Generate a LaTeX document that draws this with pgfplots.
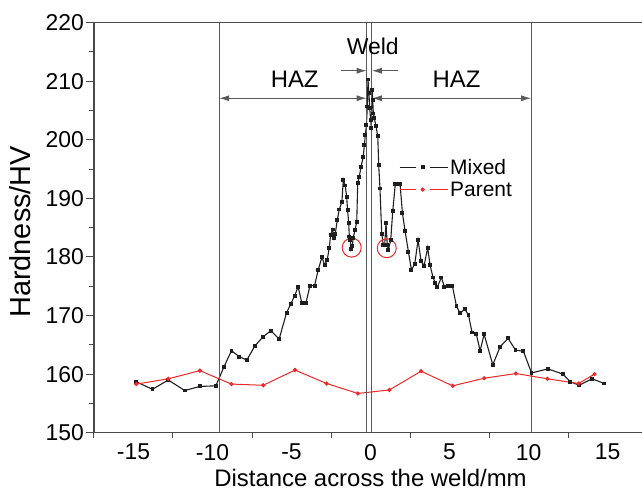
\documentclass[border=0pt]{standalone}
\usepackage{fontspec}
\setmainfont{Liberation Sans}
\usepackage{pgfplots}
\pgfplotsset{compat=1.18}
\usetikzlibrary{arrows.meta}
\definecolor{frame}{HTML}{4A4A4A}
\definecolor{mix}{HTML}{1E1E1E}
\definecolor{par}{HTML}{F02828}
\definecolor{vline}{HTML}{5A5A5A}

\pgfplotstableread{
x y
-14.82 158.7
-13.80 157.4
-12.80 159.0
-11.76 157.2
-10.80 157.9
-9.79 158.0
-9.28 161.2
-8.80 164.0
-8.31 163.0
-7.83 162.4
-7.32 164.8
-6.79 166.4
-6.31 167.4
-5.78 166.0
-5.31 170.5
-5.06 171.9
-4.80 173.4
-4.58 174.9
-4.34 172.1
-4.09 172.1
-3.83 175.1
-3.54 175.1
-3.31 177.8
-3.07 180.0
-2.90 178.6
-2.74 179.5
-2.61 181.6
-2.52 183.8
-2.40 184.7
-2.31 183.2
-2.23 184.0
-2.10 186.3
-1.98 188.1
-1.81 189.4
-1.72 193.2
-1.60 192.2
-1.51 190.3
-1.45 188.0
-1.38 185.8
-1.34 183.5
-1.27 182.9
-1.24 181.3
-1.16 181.8
-1.09 183.3
-0.98 184.6
-0.87 186.0
-0.81 192.6
-0.71 193.7
-0.60 195.4
-0.46 197.1
-0.39 199.1
-0.33 200.8
-0.26 202.5
-0.20 205.7
-0.16 210.3
-0.10 208.0
-0.05 205.4
0.01 203.4
0.05 202.0
0.10 208.5
0.14 206.8
0.18 204.5
0.24 203.7
0.35 202.3
0.46 200.6
0.52 195.7
0.60 191.7
0.71 184.0
0.81 182.1
0.90 182.1
0.98 185.8
1.06 182.1
1.13 181.2
1.28 182.9
1.41 187.9
1.57 192.5
1.72 192.5
1.87 192.5
2.02 187.5
2.19 184.4
2.40 180.9
2.59 177.8
2.80 178.8
3.01 182.9
3.20 179.3
3.39 178.5
3.62 181.6
3.77 178.6
3.96 176.5
4.11 175.5
4.23 174.9
4.49 176.5
4.68 174.9
4.91 175.1
5.18 175.1
5.44 171.6
5.67 170.4
5.97 171.1
6.20 170.1
6.43 167.1
6.69 166.9
6.94 164.0
7.19 166.8
7.74 161.6
8.21 164.7
8.71 166.1
9.18 164.1
9.68 163.9
10.19 160.2
11.23 160.9
12.18 160.0
12.64 158.7
13.21 158.1
14.02 159.2
14.80 158.4
}\mixed

\pgfplotstableread{
x y
-14.82 158.3
-12.80 159.2
-10.80 160.6
-8.80 158.3
-6.79 158.1
-4.78 160.7
-2.78 158.4
-0.80 156.7
1.20 157.3
3.20 160.5
5.20 158.0
7.19 159.3
9.20 160.1
11.20 159.2
13.17 158.4
14.18 160.0
}\parent

\begin{document}
\begin{tikzpicture}
\useasboundingbox (-94bp,-65.3bp) rectangle (548bp,432.7bp);
\begin{axis}[
  at={(0,0)}, anchor=south west,
  scale only axis, width=553bp, height=410bp,
  xmin=-17.5, xmax=17.5, ymin=150, ymax=220,
  xtick={-15,-10,...,15}, ytick={150,160,...,220},
  minor xtick={-17.5,-12.5,...,17.5}, minor ytick={155,165,...,215},
  xtick pos=bottom, ytick pos=left, tick align=outside,
  major tick length=8bp, minor tick length=5bp,
  axis line style={frame, line width=1.2bp},
  tick style={frame, line width=1bp},
  major x tick style={draw=none},
  /pgf/number format/assume math mode=true,
  tick label style={font=\fontsize{23}{27}\selectfont},
  yticklabel style={inner xsep=2bp},
  label style={font=\fontsize{24}{29}\selectfont},
  xlabel={Distance across the weld/mm},
  ylabel={Hardness/HV},
  xlabel style={at={(axis description cs:0.5,-0.11)}, anchor=center},
  ylabel style={at={(axis description cs:-0.134,0.49)}, anchor=center, font=\fontsize{29}{34}\selectfont},
  legend style={at={(axis cs:1.8,197.1)}, anchor=north west, draw=none, fill=none,
    font=\fontsize{21}{25}\selectfont, inner sep=0pt, row sep=2bp, cells={anchor=west}},
  legend image code/.code={
    \draw[#1, mark=none] (0bp,0bp) -- (16bp,0bp) (30bp,0bp) -- (48bp,0bp);
    \path[#1] plot coordinates {(23bp,0bp)};
  },
]
\addplot[mix, line width=1.1bp, mark=square*, mark size=1.4bp, mark options={solid, fill=mix}] table[x=x,y=y] {\mixed};
\addlegendentry{Mixed}
\addplot[par, line width=1bp, mark=*, mark size=1.6bp, mark options={solid, fill=par}] table[x=x,y=y] {\parent};
\addlegendentry{Parent}

% zone lines
\draw[vline, line width=1.2bp] (axis cs:-9.58,150) -- (axis cs:-9.58,220);
\draw[vline, line width=1.2bp] (axis cs:10.17,150) -- (axis cs:10.17,220);
\draw[vline, line width=1.2bp] (axis cs:-0.24,150) -- (axis cs:-0.24,220);
\draw[vline, line width=1.2bp] (axis cs:0.08,150) -- (axis cs:0.08,220);
% HAZ arrows
\draw[vline, line width=1bp, {Latex[length=10bp,width=6bp]}-{Latex[length=10bp,width=6bp]}] (axis cs:-9.58,207.1) -- (axis cs:-0.24,207.1);
\draw[vline, line width=1bp, {Latex[length=10bp,width=6bp]}-{Latex[length=10bp,width=6bp]}] (axis cs:0.08,207.1) -- (axis cs:10.17,207.1);
% weld arrows
\draw[vline, line width=1bp, -{Latex[length=10bp,width=6bp]}] (axis cs:-1.89,211.8) -- (axis cs:-0.24,211.8);
\draw[vline, line width=1bp, -{Latex[length=10bp,width=6bp]}] (axis cs:1.76,211.8) -- (axis cs:0.08,211.8);
\node[font=\fontsize{23}{27}\selectfont] at (axis cs:0.14,216.0) {Weld};
\node[font=\fontsize{24}{29}\selectfont] at (axis cs:-4.8,210.3) {HAZ};
\node[font=\fontsize{24}{29}\selectfont] at (axis cs:5.45,210.3) {HAZ};
% highlight circles
\draw[par, line width=1bp] (axis cs:-1.19,181.6) circle[radius=9.5bp];
\draw[par, line width=1bp] (axis cs:1.03,181.5) circle[radius=9.5bp];
\end{axis}
\end{tikzpicture}
\end{document}
